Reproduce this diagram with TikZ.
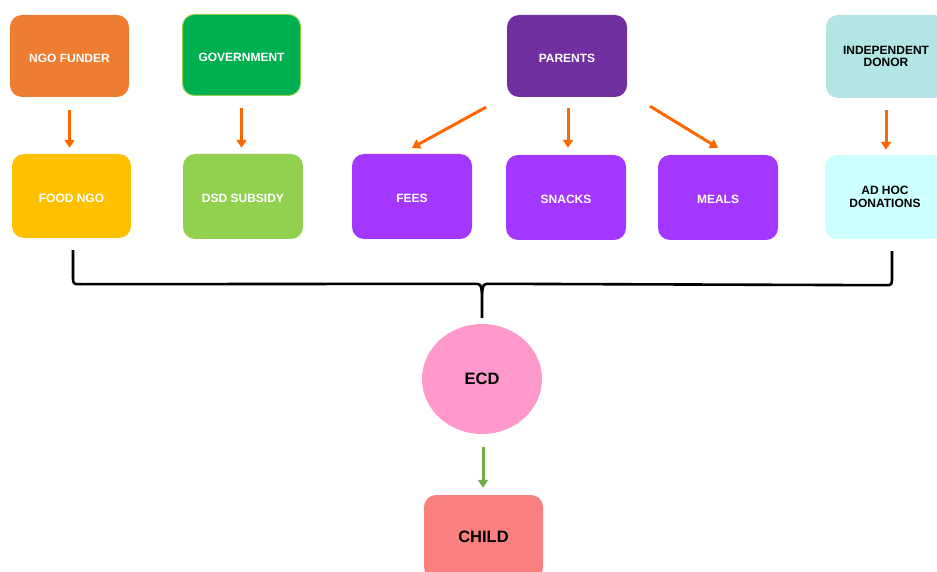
\documentclass[tikz,border=0pt]{standalone}
\usepackage{fontspec}
\setmainfont{Liberation Sans}
\usetikzlibrary{arrows.meta,shapes.geometric}
\definecolor{cfunder}{HTML}{ED7D31}
\definecolor{cgov}{HTML}{00B050}
\definecolor{cgovb}{HTML}{92D050}
\definecolor{cfood}{HTML}{FFC000}
\definecolor{cdsd}{HTML}{92D050}
\definecolor{cpar}{HTML}{7030A0}
\definecolor{cpur}{HTML}{A337FF}
\definecolor{cind}{HTML}{B4E5E5}
\definecolor{cadhoc}{HTML}{CCFFFF}
\definecolor{cecd}{HTML}{FF99CC}
\definecolor{cchild}{HTML}{FA8080}
\definecolor{carrow}{HTML}{FF6600}
\definecolor{cgarrow}{HTML}{70AD47}
\tikzset{
  box/.style={rectangle, rounded corners=12pt, minimum width=120pt, minimum height=84pt,
    inner sep=2pt, align=center, text=white, font=\fontsize{12}{12.5}\selectfont\bfseries, draw=none},
  onel/.style={text height=12.5pt, text depth=0pt},
  darkbox/.style={box, text=black},
  flow/.style={draw=carrow, line width=3pt, -{Triangle[width=10pt,length=8pt]}},
  gflow/.style={draw=cgarrow, line width=3pt, -{Triangle[width=10pt,length=8pt]}},
  bracepath/.style={draw=black, line width=2.6pt},
}
\begin{document}
\begin{tikzpicture}[x=1pt,y=-1pt]
\useasboundingbox (0,0) rectangle (937,572);
\clip (0,0) rectangle (937,572);
% top row
\node[box, onel, fill=cfunder, minimum width=119pt, minimum height=82pt] (funder) at (69.5,56) {NGO FUNDER};
\node[box, onel, fill=cgov, draw=cgovb, line width=1pt, minimum width=118pt, minimum height=81pt] (gov) at (241.5,55) {GOVERNMENT};
\node[box, onel, fill=cpar, minimum height=82pt] (parents) at (567,56) {PARENTS};
\node[darkbox, fill=cind, minimum height=83pt] (indep) at (886,56.5) {INDEPENDENT\\DONOR};
% second row
\node[box, onel, fill=cfood, minimum width=119pt] (food) at (71.5,196) {FOOD NGO};
\node[box, onel, fill=cdsd, minimum height=85pt] (dsd) at (243,196.5) {DSD SUBSIDY};
\node[box, onel, fill=cpur, minimum height=85pt] (fees) at (412,196.5) {FEES};
\node[box, onel, fill=cpur, minimum height=85pt] (snacks) at (566,197.5) {SNACKS};
\node[box, onel, fill=cpur, minimum height=85pt] (meals) at (718,197.5) {MEALS};
\node[darkbox, fill=cadhoc] (adhoc) at (885,197) {AD HOC\\DONATIONS};
% ECD and child
\node[ellipse, fill=cecd, minimum width=120pt, minimum height=110pt, inner sep=0pt,
  font=\fontsize{16.5}{17}\selectfont\bfseries] (ecd) at (482,379) {ECD};
\node[darkbox, fill=cchild, minimum width=119pt, font=\fontsize{16.5}{17}\selectfont\bfseries] (child) at (483.5,537) {CHILD};
% arrows
\draw[flow] ([yshift=-13pt]funder.south) -- ([yshift=6pt]funder.south |- food.north);
\draw[flow] ([yshift=-12pt]gov.south) -- ([yshift=6pt]gov.south |- dsd.north);
\draw[flow] ([xshift=-81pt,yshift=-10pt]parents.south) -- ([yshift=6pt]fees.north);
\draw[flow] ([xshift=1pt,yshift=-11pt]parents.south) -- ([xshift=1pt,yshift=7pt]parents.south |- snacks.north);
\draw[flow] ([xshift=83pt,yshift=-9pt]parents.south) -- ([yshift=7pt]meals.north);
\draw[flow] ([yshift=-12pt]indep.south) -- ([yshift=5pt]indep.south |- adhoc.north);
\draw[gflow] ([xshift=1pt,yshift=-13pt]ecd.south) -- ([xshift=1pt,yshift=7pt]ecd.south |- child.north);
% brace
\coordinate (bl) at ([xshift=1.5pt,yshift=-12pt]food.south);
\coordinate (br) at ([xshift=7pt,yshift=-12pt]adhoc.south);
\coordinate (stem) at ([yshift=6pt]ecd.north);
\coordinate (cusp) at ([yshift=24pt]stem);
\draw[bracepath, line join=round] (bl) -- ++(0,25) .. controls ++(0,9) .. ++(7,9) -- ([xshift=-9pt,yshift=10pt]cusp)
  .. controls ([xshift=-1pt,yshift=10pt]cusp) .. (cusp) -- (stem);
\draw[bracepath, line join=round] (br) -- ++(0,25) .. controls ++(0,9) .. ++(-7,9) -- ([xshift=9pt,yshift=10pt]cusp)
  .. controls ([xshift=1pt,yshift=10pt]cusp) .. (cusp);
\end{tikzpicture}
\end{document}
